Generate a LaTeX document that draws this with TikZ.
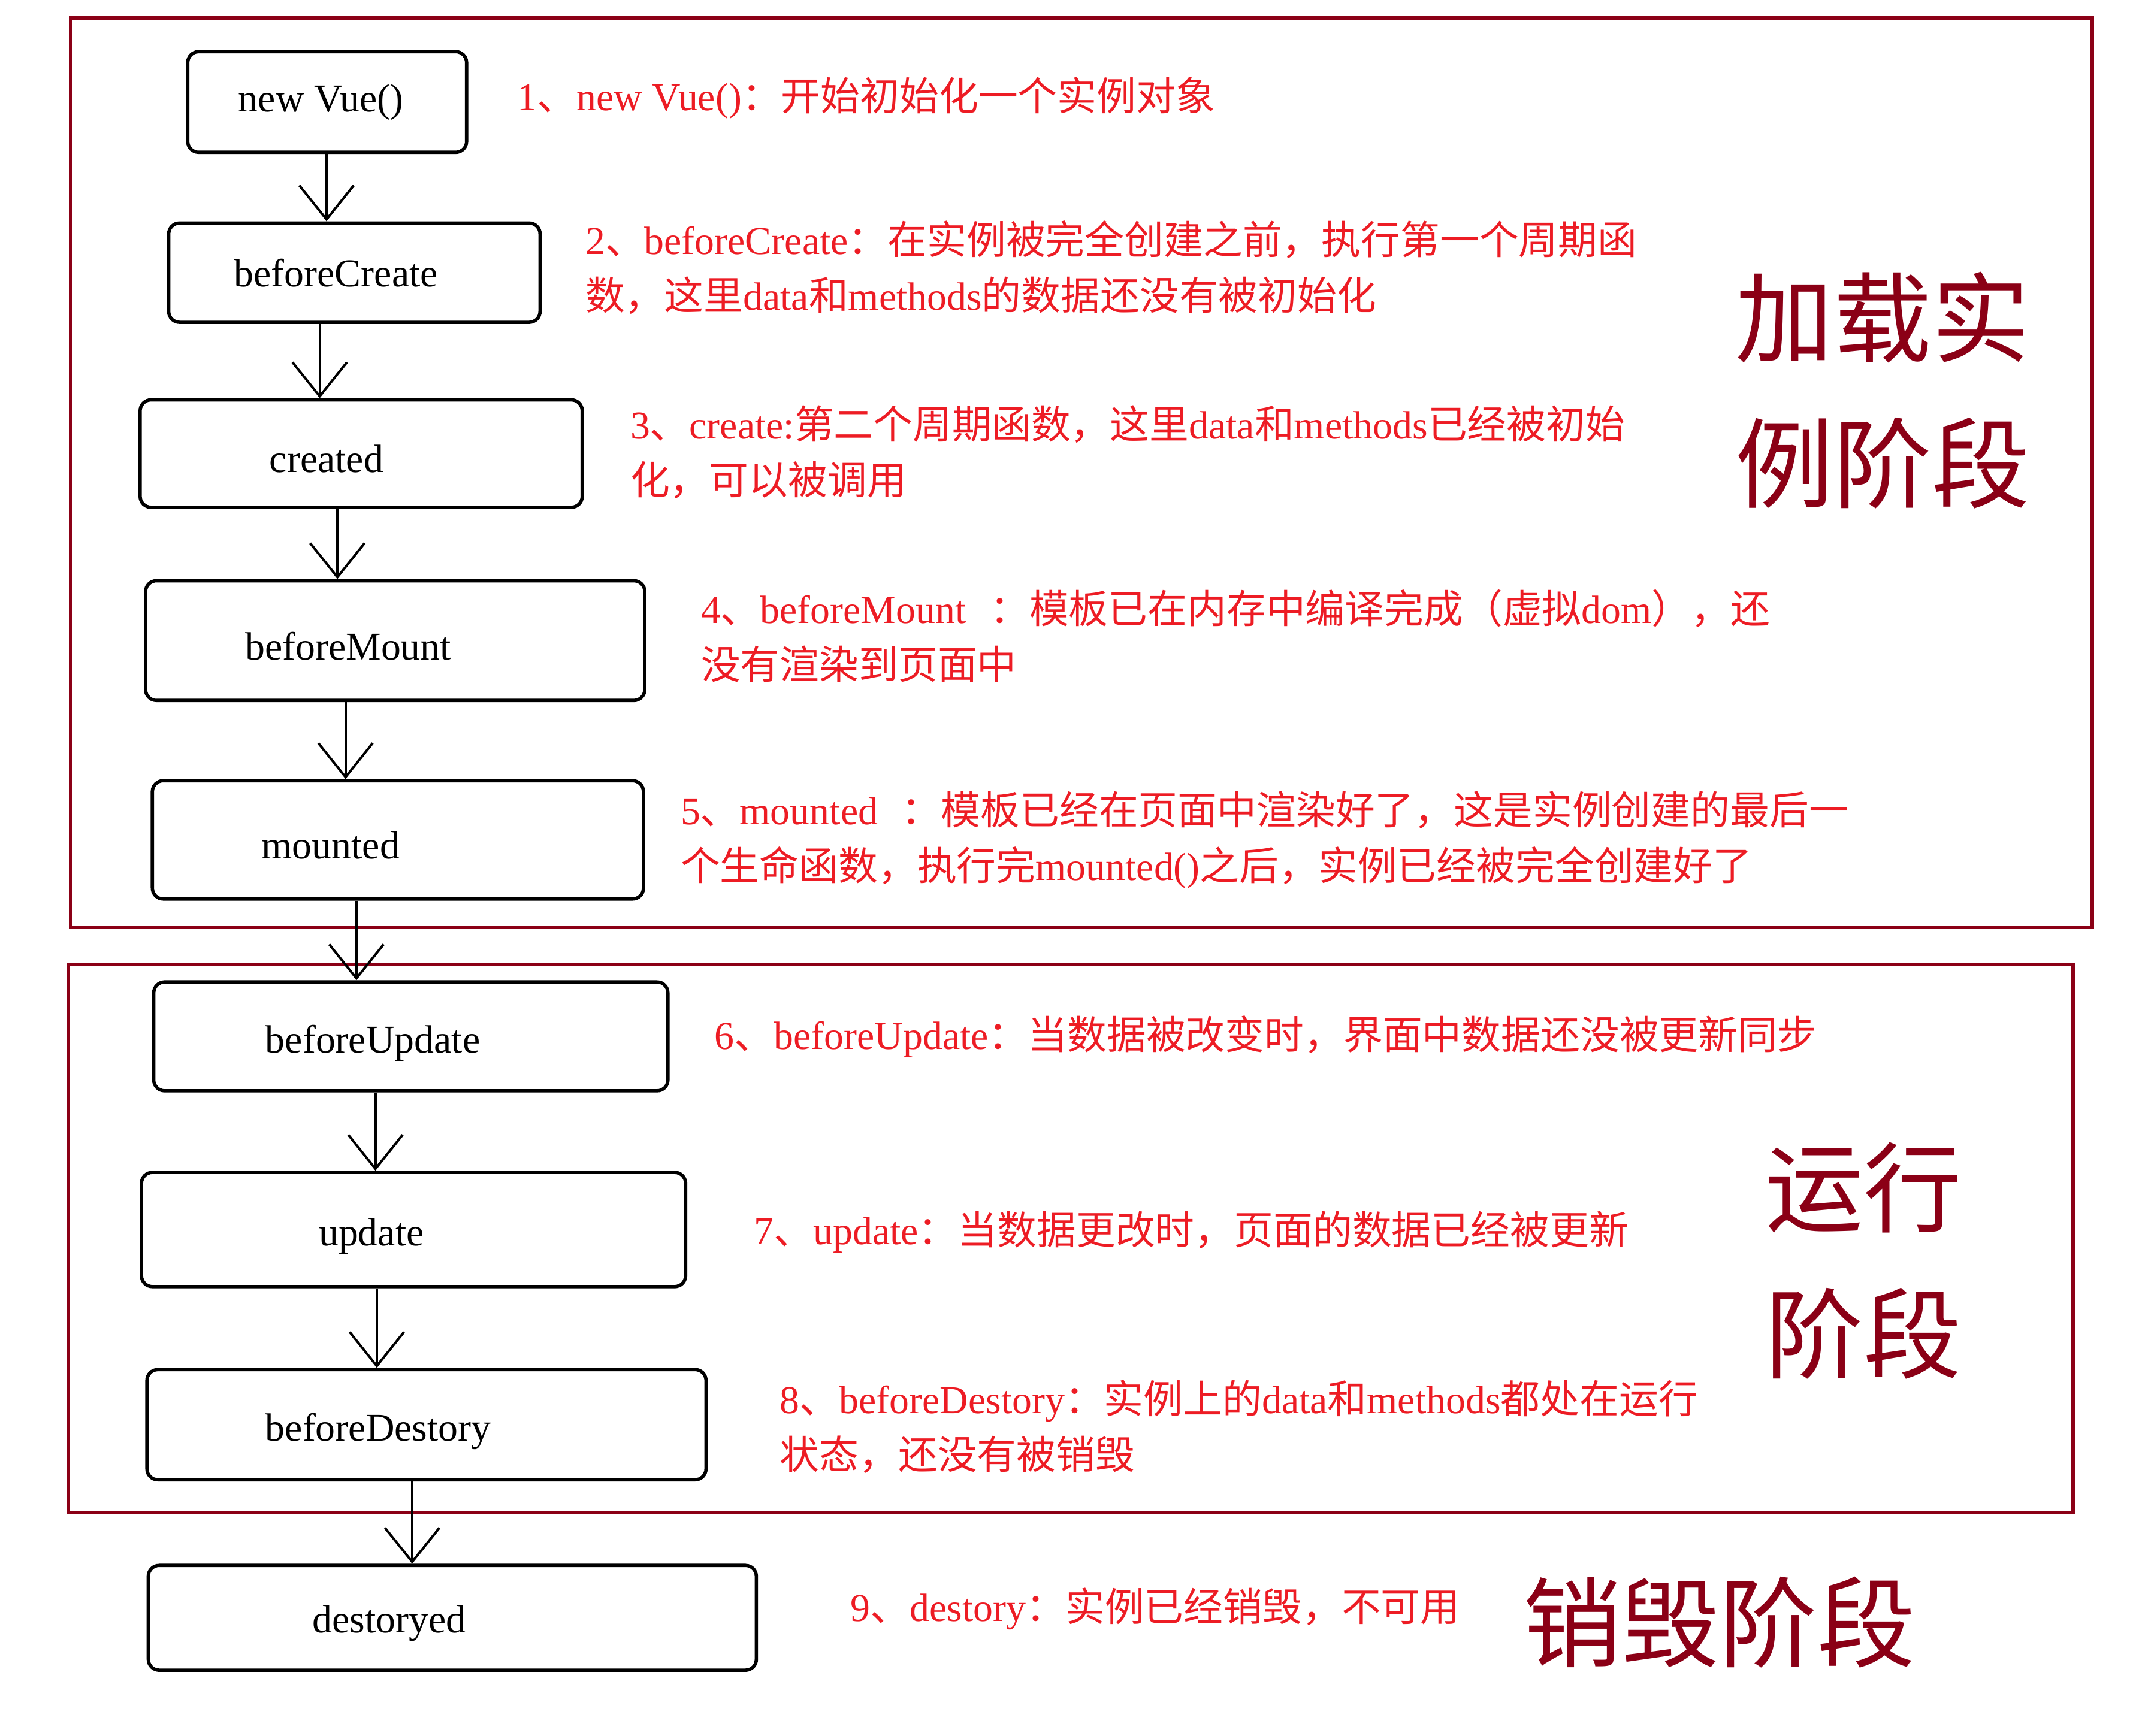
\documentclass[tikz,border=0pt]{standalone}
\usepackage{fontspec}
\setmainfont{Liberation Serif}
\newfontfamily\cjk{Noto Sans CJK SC}
\usetikzlibrary{arrows.meta}
\definecolor{rouge}{RGB}{237,28,36}
\definecolor{bordeaux}{RGB}{139,0,22}
\newcommand\zh[1]{{\cjk #1}}

\begin{document}
\begin{tikzpicture}[x=0.2mm,y=-0.2mm,
  etape/.style={draw, line width=1.4pt, rounded corners=1.6mm, inner sep=0pt, font=\fontsize{16.5}{20}\selectfont},
  note/.style={anchor=west, inner sep=0pt, align=left, text=rouge, font=\fontsize{16.5}{23.3}\selectfont},
  phase/.style={text=bordeaux, inner sep=0pt, align=center, font=\cjk\fontsize{41}{61}\selectfont},
  cadre/.style={draw=bordeaux, line width=1.5pt},
  fleche/.style={-{Straight Barb[length=5mm,width=8mm]}, line width=1pt}]
\useasboundingbox (0,0) rectangle (1568,1276);

% les deux phases encadrees
\draw[cadre] (52,13) rectangle (1538,682);
\draw[cadre] (50,709) rectangle (1524,1112);

% les etapes du cycle de vie
\foreach \n/\txt/\x/\y/\w/\h/\dx/\dy in {nv/new Vue()/240.5/75/205/74/1.8/0,
    bc/beforeCreate/260.5/200.5/273/73/5.4/0, cr/created/265.5/333.5/325/79/10.2/0.8,
    bm/beforeMount/290.5/471/367/88/13.8/0.8, mo/mounted/292.5/617.5/361/87/19.8/0.8,
    bu/beforeUpdate/302/762/378/80/11.2/1, up/update/304/904/400/84/12.4/1,
    bd/beforeDestory/313.5/1047.5/411/81/14.2/1, de/destoryed/332.5/1189.5/447/77/18.6/0.8}
  \node[etape, minimum width=\w*0.2mm, minimum height=\h*0.2mm] (\n) at (\x,\y)
    {\raisebox{-\dy mm}[\height][\depth]{\txt}\hspace*{\dx mm}};

\foreach \a/\b/\ax in {nv/bc/240, bc/cr/235, cr/bm/248, bm/mo/254, mo/bu/262, bu/up/276, up/bd/277, bd/de/303}
  {\coordinate (fx) at (\ax,0);
  \draw[fleche] (\a.south -| fx) -- (\b.north -| fx);};

% explications
\node[note] (n1) at (380,72) {1\zh{、}new Vue()\zh{：开始初始化一个实例对象}};
\node[note] (n2) at (430,196.5) {2\zh{、}beforeCreate\zh{：在实例被完全创建之前，执行第一个周期函}\\
  \zh{数，这里}data\zh{和}methods\zh{的数据还没有被初始化}};
\node[note] (n3) at (463,332.5) {3\zh{、}create:\zh{第二个周期函数，这里}data\zh{和}methods\zh{已经被初始}\\
  \zh{化，可以被调用}};
\node[note] (n4) at (515,467.5) {4\zh{、}beforeMount\hspace{3.5mm}\zh{：模板已在内存中编译完成（虚拟}dom\zh{），还}\\
  \zh{没有渲染到页面中}};
\node[note] (n5) at (500,617.5) {5\zh{、}mounted\hspace{3.5mm}\zh{：模板已经在页面中渲染好了，这是实例创建的最后一}\\
  \zh{个生命函数，执行完}mounted()\zh{之后，实例已经被完全创建好了}};
\node[note] (n6) at (525,762) {6\zh{、}beforeUpdate\zh{：当数据被改变时，界面中数据还没被更新同步}};
\node[note] (n7) at (554,906) {7\zh{、}update\zh{：当数据更改时，页面的数据已经被更新}};
\node[note] (n8) at (573,1049) {8\zh{、}beforeDestory\zh{：实例上的}data\zh{和}methods\zh{都处在运行}\\
  \zh{状态，还没有被销毁}};
\node[note] (n9) at (625,1183) {9\zh{、}destory\zh{：实例已经销毁，不可用}};

% noms des phases
\node[phase] (p1) at (1384,287) {加载实\\例阶段};
\node[phase] (p2) at (1370,927) {运行\\阶段};
\node[phase] (p3) at (1264,1193) {销毁阶段};
\end{tikzpicture}
\end{document}
